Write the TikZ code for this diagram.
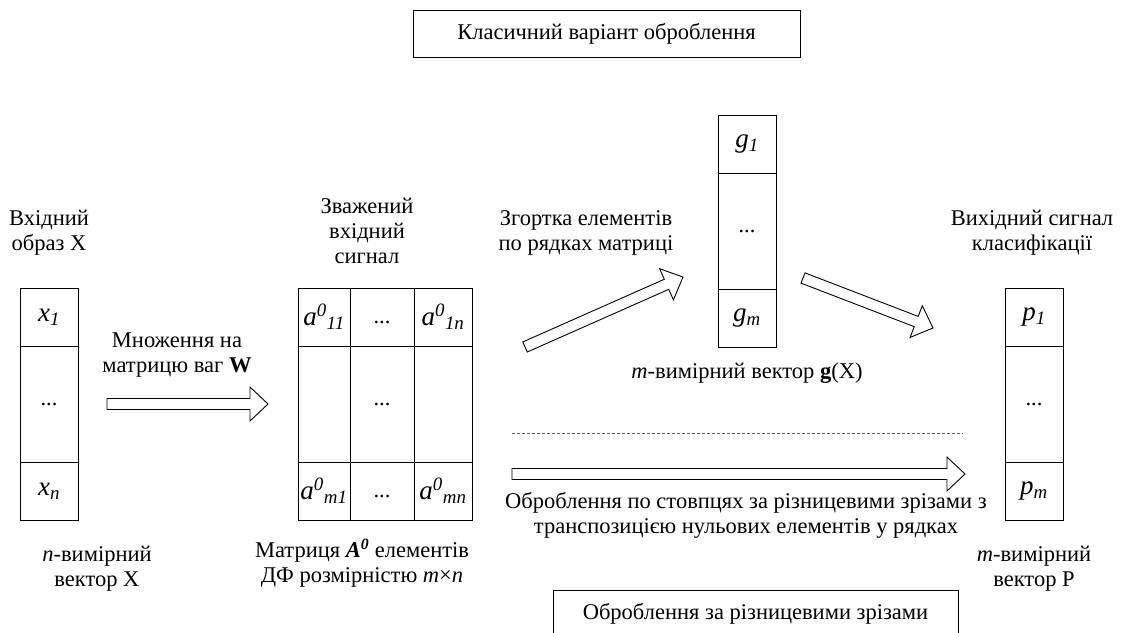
\documentclass[tikz,border=0pt]{standalone}
\usepackage{fontspec}
\setmainfont{Liberation Serif}
\usetikzlibrary{
  positioning,
  calc,
  shadows
}

\newcommand{\sm}[1]{\textsubscript{\textit{#1}}}
\newcommand{\su}[1]{\textsuperscript{\textit{#1}}}
\newcommand{\dd}{{\fontsize{22.5}{25}\selectfont ...}}
\newcommand{\ds}{\strut{\fontsize{22.5}{25}\selectfont ...}}
% hollow block arrow from #1 to #2
\newcommand{\fatarrow}[2]{%
  \coordinate (hb) at ($(#2)!18pt!(#1)$);
  \draw[fat] ($(#1)!5.5pt!90:(#2)$) -- ($(hb)!5.5pt!90:(#2)$)
    -- ($(hb)!17pt!90:(#2)$) -- (#2) -- ($(hb)!17pt!-90:(#2)$)
    -- ($(hb)!5.5pt!-90:(#2)$) -- ($(#1)!5.5pt!-90:(#2)$) -- cycle;}

\tikzset{
  cell/.style={draw,line width=0.9pt,minimum width=58pt,minimum height=58pt,
    inner sep=0pt,outer sep=0pt,font=\fontsize{27}{30}\selectfont},
  tall/.style={minimum height=116pt},
  lbl/.style={align=center,inner sep=0pt,font=\fontsize{22.5}{25}\selectfont},
  frame/.style={draw,line width=0.9pt,fill=white,inner sep=0pt,
    font=\fontsize{22.5}{25}\selectfont},
  fat/.style={draw,line width=0.9pt,line join=miter},
}

\begin{document}
\begin{tikzpicture}[x=1pt,y=-1pt]
  \clip (0,0) rectangle (1121,632);
  \fill[white] (0,0) rectangle (1121,632);

  % input vector
  \node[cell] (x1) at (49,317) {\textit{x}\sm{1}};
  \node[cell,tall,below=0pt of x1] (xd) {\dd};
  \node[cell,below=0pt of xd] (xn) {\textit{x}\sm{n}};

  % weighted matrix
  \node[cell,minimum width=52pt] (a11) at (324,317) {\textit{a}\su{0}\sm{11}};
  \node[cell,minimum width=64pt,right=0pt of a11] (a12) {\ds};
  \node[cell,right=0pt of a12] (a1n) {\textit{a}\su{0}\sm{1n}};
  \node[cell,tall,minimum width=52pt,below=0pt of a11] (a21) {};
  \node[cell,tall,minimum width=64pt,below=0pt of a12] (a22) {\dd};
  \node[cell,tall,below=0pt of a1n] (a2n) {};
  \node[cell,minimum width=52pt,below=0pt of a21] (am1) {\textit{a}\su{0}\sm{m1}};
  \node[cell,minimum width=64pt,below=0pt of a22] (am2) {\ds};
  \node[cell,below=0pt of a2n] (amn) {\textit{a}\su{0}\sm{mn}};

  % convolution vector
  \node[cell] (g1) at (747,144) {\textit{g}\sm{1}};
  \node[cell,tall,below=0pt of g1] (gd) {\dd};
  \node[cell,below=0pt of gd] (gm) {\textit{g}\sm{m}};

  % output vector
  \node[cell] (p1) at (1034,317) {\textit{p}\sm{1}};
  \node[cell,tall,below=0pt of p1] (pd) {\dd};
  \node[cell,below=0pt of pd] (pm) {\textit{p}\sm{m}};

  % labels
  \node[lbl] (inX) at (49,233) {Вхідний\\образ X};
  \node[lbl] (vecX) at (97,569) {\textit{n}-вимірний\\вектор X};
  \node[lbl] (wsig) at (367,231) {Зважений\\вхідний\\сигнал};
  \node[lbl] (mult) at (177,355) {Множення на\\матрицю ваг \textbf{W}};
  \node[lbl] (matA) at (362,563) {Матриця \textbf{\textit{A}}\textsuperscript{\textbf{\textit{0}}} елементів\\ДФ розмірністю \textit{m}×\textit{n}};
  \node[lbl] (conv) at (586,233) {Згортка елементів\\по рядках матриці};
  \node[lbl] (vecG) at (747,373) {\textit{m}-вимірний вектор \textbf{g}(X)};
  \node[lbl] (outP) at (1032,233) {Вихідний сигнал\\класифікації};
  \node[lbl] (vecP) at (1034,569) {\textit{m}-вимірний\\вектор P};
  \node[lbl] (cols) at (746,515) {Оброблення по стовпцях за різницевими зрізами з\\транспозицією нульових елементів у рядках};

  % variant boxes
  \node[frame,minimum width=387pt,minimum height=47pt,
    drop shadow={shadow xshift=1.2pt,shadow yshift=-1.2pt,fill=gray!80,opacity=1}]
    (classic) at (606.5,33.5) {Класичний варіант оброблення};
  \node[frame,minimum width=405pt,minimum height=46pt,anchor=north]
    (diff) at (755.5,590) {Оброблення за різницевими зрізами};

  % block arrows
  \coordinate (w0) at ($(xd.east)+(29,0)$);
  \coordinate (w1) at ($(a21.west)+(-30,0)$);
  \coordinate (c0) at (525,347);
  \coordinate (c1) at (683,277);
  \coordinate (o0) at (803,278);
  \coordinate (o1) at (933,328);
  \coordinate (d0) at (512,474);
  \coordinate (d1) at (965,474);
  \fatarrow{w0}{w1}
  \fatarrow{c0}{c1}
  \fatarrow{o0}{o1}
  \fatarrow{d0}{d1}

  % split line
  \coordinate (s0) at (512,433);
  \coordinate (s1) at (963,433);
  \draw[gray!70!black,line width=0.6pt,dash pattern=on 3pt off 2pt] (s0) -- (s1);
\end{tikzpicture}
\end{document}
